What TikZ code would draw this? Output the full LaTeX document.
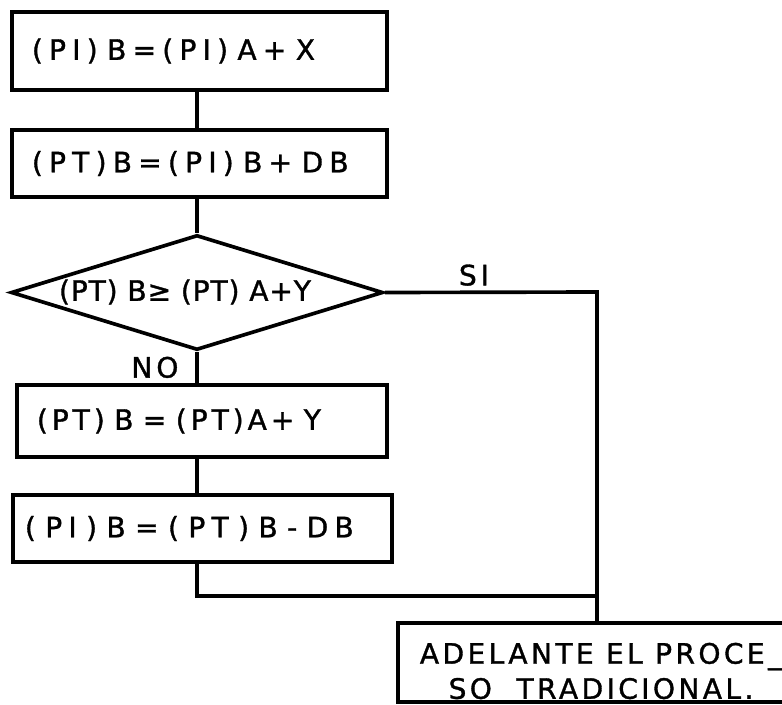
\documentclass[tikz,border=0pt]{standalone}
\usepackage{fontspec}
\setmainfont{DejaVu Sans}
\usepackage{tikz}
\usetikzlibrary{shapes.geometric}

\newcommand{\leroy}[1][22]{\fontsize{20}{25}\selectfont\addfontfeature{LetterSpace=#1,FakeBold=1.2}}

\begin{document}
\begin{tikzpicture}[
  x=0.025cm, y=-0.025cm,
  proc/.style={draw, line width=3pt, text width=#1,
               inner xsep=0.5cm, inner ysep=0pt,
               align=left, font=\leroy},
  dec/.style={draw, diamond, line width=2.6pt, inner sep=0pt,
              minimum width=9.3cm, minimum height=2.875cm},
  conn/.style={line width=2.6pt},
  lbl/.style={font={\leroy[14]}},
]
\useasboundingbox (0,0) rectangle (782,704);
\clip (0,0) rectangle (782,704);

% ---- steps down the left side ----
\node[proc=8.375cm, minimum height=1.95cm]  (b1) at (199.5,51)  {(PI) B=(PI) A+ X};
\node[proc=8.375cm, minimum height=1.675cm] (b2) at (199.5,163.5) {(PT)B=(PI) B+ DB};

% ---- test ----
\node[dec] (d1) at (197,292.5) {};
\node[font={\leroy[3]}] (d1txt) at (185,292) {(PT) B≥ (PT) A+Y};

% ---- NO branch ----
\node[proc=8.25cm, minimum height=1.8cm, font={\leroy[14]}]
     (b3) at (202,421) {(PT) B = (PT)A+ Y};
\node[proc=8.875cm, inner xsep=0.3cm, minimum height=1.675cm]
     (b4) at (202.5,528.5) {( PI ) B = ( PT ) B - DB};

% ---- end box ----
\node[draw, line width=3pt, minimum width=9.95cm, minimum height=1.975cm]
     (b5) at (597,662.5) {};
\node[align=center, inner sep=0pt, font={\leroy[12]}]
     (b5txt) at (601,671) {ADELANTE EL PROCE\_\\SO\ \ TRADICIONAL.};

% ---- joints ----
\coordinate (r1) at (597,292);
\coordinate (j1) at (597,596);

% ---- lines ----
\draw[conn] (b1.south -| d1.north) -- (b2.north -| d1.north);
\draw[conn] (b2.south -| d1.north) -- (d1.north);
\draw[conn] (d1.east) -- node[lbl, above, pos=0.42] {SI} (r1) -- (b5.north);
\draw[conn] (d1.south) -- node[lbl, left=0.3cm] {NO} (d1.south |- b3.north);
\draw[conn] (b3.south -| d1.south) -- (b4.north -| d1.south);
\draw[conn] (b4.south -| d1.south) |- (j1);

\end{tikzpicture}
\end{document}
